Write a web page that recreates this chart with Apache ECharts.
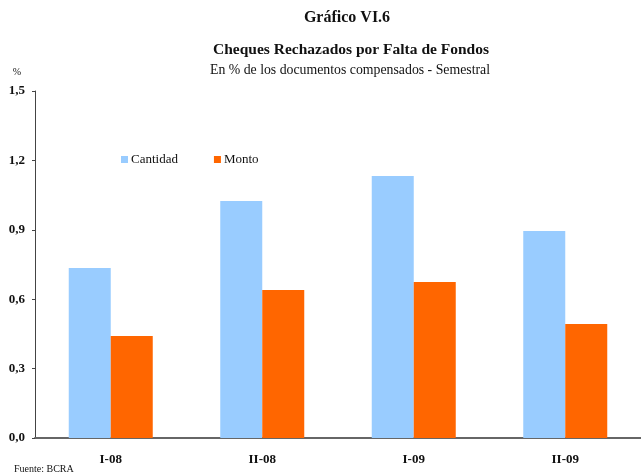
<!DOCTYPE html>
<html>
<head>
<meta charset="utf-8">
<script src="https://cdn.jsdelivr.net/npm/echarts@6/dist/echarts.min.js"></script>
<style>
  html, body { margin: 0; padding: 0; background: #fff; }
  #chart { width: 641px; height: 473px; }
</style>
</head>
<body>
<div id="chart"></div>
<script>
// Semestral periods
const categories = ['I-08', 'II-08', 'I-09', 'II-09'];
// Rejected cheques as % of cleared documents
const cantidad = [0.735, 1.025, 1.133, 0.895];
const monto = [0.441, 0.640, 0.674, 0.493];
const yTicks = [0, 0.3, 0.6, 0.9, 1.2, 1.5];

const FONT = '"Liberation Serif", "DejaVu Serif", serif';
const chart = echarts.init(document.getElementById('chart'), null, { renderer: 'canvas' });

function label(text, x, y, size, weight, align) {
  return {
    type: 'text', x: x, y: y,
    style: { text: text, fill: '#111', font: weight + ' ' + size + 'px ' + FONT,
             textAlign: align || 'center', textVerticalAlign: 'middle' }
  };
}

chart.setOption({
  backgroundColor: '#ffffff',
  animation: false,
  textStyle: { fontFamily: FONT },
  graphic: [
    label('Gráfico VI.6', 347, 18, 16, 'bold'),
    label('Cheques Rechazados por Falta de Fondos', 351, 50, 15.5, 'bold'),
    label('En % de los documentos compensados - Semestral', 350, 70, 13.8, 'normal'),
    label('%', 17, 72, 10, 'normal'),
    label('Fuente: BCRA', 14, 469, 10, 'normal', 'left')
  ],
  legend: {
    data: ['Cantidad', 'Monto'],
    left: 116, top: 148,
    itemWidth: 7, itemHeight: 7, itemGap: 36,
    icon: 'rect',
    textStyle: { fontFamily: FONT, fontSize: 13, color: '#111', padding: [0, 0, 0, -2] }
  },
  grid: { left: 35, right: 0, top: 91, bottom: 35, containLabel: false },
  xAxis: {
    type: 'category',
    data: categories,
    axisLine: { lineStyle: { color: '#666', width: 2 } },
    axisTick: { show: false },
    axisLabel: { fontFamily: FONT, fontSize: 13, fontWeight: 'bold', color: '#111', margin: 15 }
  },
  yAxis: {
    type: 'value',
    min: 0, max: 1.5, interval: 0.3,
    axisLine: { show: true, lineStyle: { color: '#444', width: 1 } },
    axisTick: { show: true, length: 3, lineStyle: { color: '#444' } },
    splitLine: { show: false },
    axisLabel: {
      fontFamily: FONT, fontSize: 13, fontWeight: 'bold', color: '#111', margin: 10,
      formatter: v => yTicks.includes(Math.round(v * 10) / 10) ? v.toFixed(1).replace('.', ',') : ''
    }
  },
  series: [
    { name: 'Cantidad', type: 'bar', data: cantidad, barWidth: 42, barGap: '0%',
      itemStyle: { color: '#99ccff' } },
    { name: 'Monto', type: 'bar', data: monto, barWidth: 42, barGap: '0%',
      itemStyle: { color: '#ff6600' } }
  ]
});
</script>
</body>
</html>
